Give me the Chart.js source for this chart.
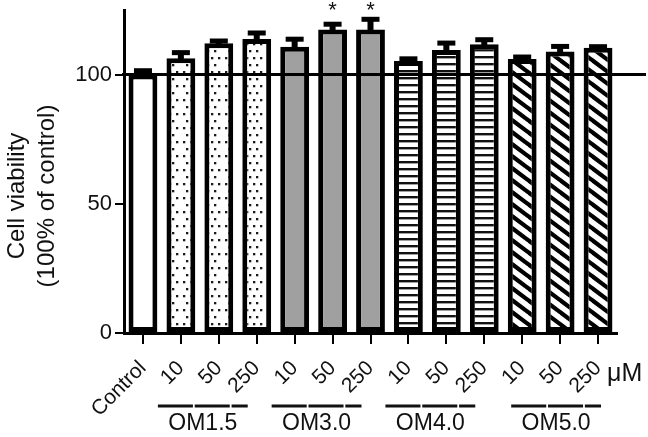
<!DOCTYPE html>
<html>
<head>
<meta charset="utf-8">
<script src="https://cdn.jsdelivr.net/npm/chart.js@4/dist/chart.umd.min.js"></script>
<style>
html,body{margin:0;padding:0;background:#fff;}
#wrap{width:648px;height:437px;position:relative;}
</style>
</head>
<body>
<div id="wrap"><canvas id="c" width="648" height="437"></canvas></div>
<script>
// ---- data ----
const categories = ['Control','10','50','250','10','50','250','10','50','250','10','50','250'];
const viability  = [100, 106.3, 112.1, 113.8, 110.8, 117.5, 117.5, 105.3, 109.5, 111.7, 106.0, 108.9, 110.4];
const sdValues   = [1.5, 2.2, 0.9, 2.3, 2.9, 2.0, 3.9, 0.8, 2.7, 1.8, 0.8, 2.0, 0.4];
const significance = ['', '', '', '', '', '*', '*', '', '', '', '', '', ''];
const fillTypes  = ['white','dots','dots','dots','gray','gray','gray','hlines','hlines','hlines','diag','diag','diag'];
const groupNames = ['OM1.5','OM3.0','OM4.0','OM5.0'];
const groupFirst = [1, 4, 7, 10];
const groupLast  = [3, 6, 9, 12];
const yTicks = [0, 50, 100];
const referenceValue = 100;
const unitLabel = 'μM';
const yTitle = ['Cell viability', '(100% of control)'];

const FONT = '"Liberation Sans", Arial, sans-serif';
const TXT = '#111';

function makePattern(type) {
  const c = document.createElement('canvas');
  let g;
  if (type === 'dots') {
    c.width = 21; c.height = 14;
    g = c.getContext('2d');
    g.fillStyle = '#fff'; g.fillRect(0, 0, 21, 14);
    g.fillStyle = '#1a1a1a';
    [[1,1],[8,1],[15,1],[4,8],[18,8]].forEach(p => g.fillRect(p[0], p[1], 2.3, 2.3));
  } else if (type === 'hlines') {
    c.width = 8; c.height = 7;
    g = c.getContext('2d');
    g.fillStyle = '#fff'; g.fillRect(0, 0, 8, 7);
    g.fillStyle = '#111'; g.fillRect(0, 0, 8, 2.4);
  } else if (type === 'diag') {
    c.width = 16; c.height = 12;
    g = c.getContext('2d');
    g.fillStyle = '#fff'; g.fillRect(0, 0, 16, 12);
    g.strokeStyle = '#000'; g.lineWidth = 4.2;
    [-16, 0, 16].forEach(dx => {
      g.beginPath(); g.moveTo(dx - 2, -1.5); g.lineTo(dx + 18, 13.5); g.stroke();
    });
  } else {
    return null;
  }
  return document.getElementById('c').getContext('2d').createPattern(c, 'repeat');
}
const fillFor = t => t === 'white' ? '#ffffff' : (t === 'gray' ? '#a0a0a0' : makePattern(t));
const barFills = fillTypes.map(fillFor);

const overlay = {
  id: 'overlay',
  afterDatasetsDraw(chart) {
    const ctx = chart.ctx, ys = chart.scales.y;
    const meta = chart.getDatasetMeta(0);
    ctx.save();
    // error bars
    ctx.fillStyle = '#000';
    viability.forEach((v, i) => {
      const x = meta.data[i].x;
      const yTop = ys.getPixelForValue(v);
      const yErr = ys.getPixelForValue(v + sdValues[i]);
      ctx.fillRect(x - 3, yErr, 6, yTop - yErr + 2);
      ctx.fillRect(x - 9, yErr - 2.5, 18, 5);
    });
    // reference line
    const yr = ys.getPixelForValue(referenceValue);
    ctx.strokeStyle = '#000'; ctx.lineWidth = 3;
    ctx.beginPath(); ctx.moveTo(chart.chartArea.left - 2, yr); ctx.lineTo(chart.width - 2, yr); ctx.stroke();
    // significance
    ctx.fillStyle = TXT; ctx.font = '22px ' + FONT; ctx.textAlign = 'center'; ctx.textBaseline = 'middle';
    significance.forEach((s, i) => { if (s) ctx.fillText(s, meta.data[i].x, chart.chartArea.top + 1); });
    ctx.restore();
  },
  afterDraw(chart) {
    const ctx = chart.ctx, xs = chart.scales.x;
    const groupShift = [0, 0, 0, 12];
    ctx.save();
    ctx.fillStyle = TXT;
    // y title
    ctx.font = '24px ' + FONT; ctx.textAlign = 'center'; ctx.textBaseline = 'middle';
    ctx.save(); ctx.translate(17, 196); ctx.rotate(-Math.PI / 2); ctx.fillText(yTitle[0], 0, 0); ctx.restore();
    ctx.save(); ctx.translate(47, 196); ctx.rotate(-Math.PI / 2); ctx.fillText(yTitle[1], 0, 0); ctx.restore();
    // unit
    ctx.font = '25px ' + FONT; ctx.textAlign = 'left';
    ctx.fillText(unitLabel, xs.getPixelForValue(12) + 9, 374);
    // group lines & labels
    ctx.strokeStyle = '#111'; ctx.lineWidth = 3;
    ctx.font = '23px ' + FONT; ctx.textAlign = 'center';
    groupNames.forEach((name, g) => {
      const a = xs.getPixelForValue(groupFirst[g]) - 23 + groupShift[g];
      const b = xs.getPixelForValue(groupLast[g]) - 9 + groupShift[g];
      const w = (b - a);
      const seg = [[a, a + w * 0.39], [a + w * 0.41, a + w * 0.8], [a + w * 0.82, b]];
      seg.forEach(s => { ctx.beginPath(); ctx.moveTo(s[0], 406); ctx.lineTo(s[1], 406); ctx.stroke(); });
      ctx.fillText(name, (a + b) / 2, 424);
    });
    ctx.restore();
  }
};

new Chart(document.getElementById('c'), {
  type: 'bar',
  data: {
    labels: categories,
    datasets: [{
      data: viability,
      backgroundColor: barFills,
      borderColor: '#000',
      borderWidth: 5,
      borderSkipped: false,
      barPercentage: 0.76,
      categoryPercentage: 1.0
    }]
  },
  options: {
    responsive: false,
    animation: false,
    devicePixelRatio: 1,
    layout: { padding: { left: 0, right: 31, top: 10, bottom: 0 } },
    plugins: { legend: { display: false }, tooltip: { enabled: false } },
    scales: {
      x: {
        offset: true,
        grid: { drawOnChartArea: false, offset: false, tickLength: 11, lineWidth: 2, color: '#000' },
        border: { display: true, color: '#000', width: 3 },
        ticks: { autoSkip: false, minRotation: 45, maxRotation: 45, padding: 12, color: TXT, font: { family: FONT, size: 21 } },
        afterFit: s => { s.height = 104; s.paddingLeft = 0; s.paddingRight = 0; }
      },
      y: {
        min: 0, max: 125,
        grid: { drawOnChartArea: false, tickLength: 9, lineWidth: 2, color: '#000' },
        border: { display: true, color: '#000', width: 3 },
        ticks: { stepSize: 50, padding: 3, color: TXT, font: { family: FONT, size: 22 } },
        afterBuildTicks: s => { s.ticks = yTicks.map(v => ({ value: v })); },
        afterFit: s => { s.width = 124; s.paddingTop = 0; s.paddingBottom = 0; }
      }
    }
  },
  plugins: [overlay]
});
</script>
</body>
</html>
